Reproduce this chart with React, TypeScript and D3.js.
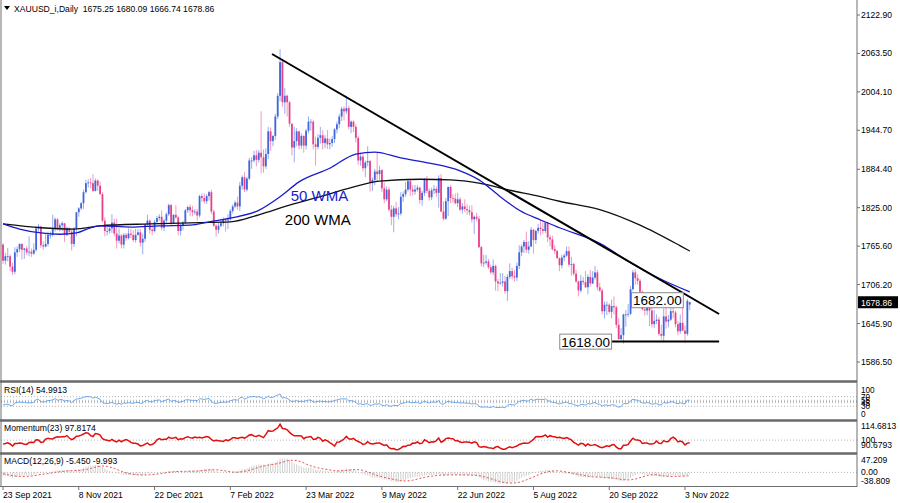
import React, { useRef, useEffect } from 'react';
import * as d3 from 'd3';

// XAUUSD daily bars, 23 Sep 2021 .. 7 Nov 2022 -> [open, high, low, close]
const candles: [number, number, number, number][] = [
  [1768, 1770, 1738, 1743], [1743, 1755, 1737, 1750], [1750, 1763, 1742, 1750], [1750, 1753, 1727, 1734],
  [1734, 1740, 1721, 1726], [1726, 1764, 1722, 1756], [1756, 1765, 1749, 1761], [1761, 1770, 1756, 1769],
  [1769, 1770, 1745, 1760], [1760, 1763, 1746, 1762], [1762, 1766, 1752, 1756], [1756, 1781, 1750, 1757],
  [1757, 1762, 1749, 1754], [1754, 1770, 1752, 1760], [1760, 1796, 1757, 1793], [1793, 1800, 1788, 1796],
  [1796, 1797, 1763, 1767], [1767, 1773, 1760, 1765], [1765, 1785, 1764, 1769], [1769, 1788, 1765, 1783],
  [1783, 1788, 1777, 1783], [1783, 1814, 1780, 1792], [1792, 1810, 1788, 1807], [1807, 1809, 1790, 1792],
  [1792, 1801, 1788, 1798], [1798, 1804, 1789, 1801], [1801, 1801, 1772, 1783], [1783, 1796, 1781, 1793],
  [1793, 1795, 1784, 1788], [1788, 1792, 1759, 1769], [1769, 1795, 1764, 1793], [1793, 1818, 1781, 1818],
  // 8 Nov 2021
  [1818, 1826, 1811, 1824], [1824, 1834, 1821, 1832], [1832, 1853, 1823, 1849], [1849, 1868, 1847, 1863],
  [1863, 1869, 1856, 1864], [1864, 1871, 1855, 1863], [1863, 1877, 1849, 1851], [1851, 1870, 1850, 1867],
  [1867, 1869, 1851, 1859], [1859, 1866, 1845, 1846], [1846, 1849, 1802, 1805], [1805, 1810, 1781, 1789],
  [1789, 1795, 1782, 1789], [1789, 1795, 1785, 1793], [1793, 1815, 1786, 1802], [1802, 1808, 1781, 1785],
  [1785, 1808, 1762, 1774], [1774, 1793, 1770, 1782], [1782, 1784, 1762, 1768], [1768, 1786, 1762, 1783],
  [1783, 1786, 1774, 1778], [1778, 1793, 1776, 1785], [1785, 1792, 1778, 1783], [1783, 1790, 1772, 1775],
  [1775, 1792, 1771, 1783], [1783, 1792, 1782, 1787], [1787, 1792, 1765, 1771], [1771, 1785, 1753, 1777],
  [1777, 1800, 1772, 1799], [1799, 1814, 1796, 1805], [1805, 1807, 1785, 1791], [1791, 1797, 1783, 1789],
  // 22 Dec 2021
  [1789, 1806, 1787, 1803], [1803, 1812, 1800, 1809], [1809, 1815, 1805, 1811], [1811, 1821, 1790, 1794],
  [1794, 1808, 1789, 1805], [1805, 1818, 1802, 1815], [1815, 1831, 1812, 1829], [1829, 1831, 1798, 1801],
  [1801, 1815, 1800, 1814], [1814, 1829, 1808, 1810], [1810, 1812, 1782, 1789], [1789, 1800, 1782, 1797],
  [1797, 1805, 1790, 1802], [1802, 1823, 1800, 1821], [1821, 1828, 1817, 1826], [1826, 1830, 1812, 1821],
  [1821, 1828, 1812, 1818], [1818, 1823, 1814, 1819], [1819, 1823, 1805, 1813], [1813, 1845, 1810, 1843],
  [1843, 1847, 1834, 1840], [1840, 1847, 1831, 1835], [1835, 1846, 1831, 1843], [1843, 1851, 1836, 1849],
  [1849, 1853, 1815, 1819], [1819, 1822, 1795, 1797], [1797, 1800, 1780, 1791], [1791, 1802, 1785, 1797],
  [1797, 1808, 1795, 1801], [1801, 1810, 1796, 1807], [1807, 1809, 1788, 1805], [1805, 1815, 1792, 1807],
  // 7 Feb 2022
  [1807, 1823, 1805, 1820], [1820, 1830, 1816, 1827], [1827, 1836, 1824, 1833], [1833, 1842, 1822, 1827],
  [1827, 1865, 1820, 1859], [1859, 1875, 1853, 1872], [1872, 1880, 1849, 1853], [1853, 1873, 1850, 1870],
  [1870, 1902, 1868, 1898], [1898, 1903, 1885, 1898], [1898, 1913, 1895, 1906], [1906, 1914, 1889, 1899],
  [1899, 1914, 1895, 1910], [1910, 1974, 1878, 1903], [1903, 1915, 1879, 1889], [1889, 1917, 1885, 1908],
  [1908, 1950, 1900, 1943], [1943, 1949, 1913, 1928], [1928, 1937, 1920, 1936], [1936, 1970, 1930, 1966],
  [1966, 2002, 1962, 1998], [1998, 2070, 1990, 2050], [2050, 2055, 1981, 1988], [1988, 2010, 1970, 1998],
  [1998, 2000, 1966, 1988], [1988, 1990, 1950, 1955], [1955, 1955, 1906, 1918], [1918, 1950, 1895, 1928],
  [1928, 1948, 1920, 1943], [1943, 1944, 1915, 1921], [1921, 1940, 1916, 1936], [1936, 1937, 1910, 1921],
  // 23 Mar 2022
  [1921, 1947, 1915, 1944], [1944, 1966, 1940, 1958], [1958, 1962, 1944, 1958], [1958, 1960, 1915, 1923],
  [1923, 1935, 1890, 1919], [1919, 1939, 1915, 1933], [1933, 1950, 1924, 1937], [1937, 1945, 1915, 1925],
  [1925, 1937, 1917, 1932], [1932, 1945, 1916, 1923], [1923, 1932, 1915, 1925], [1925, 1936, 1919, 1931],
  [1931, 1948, 1925, 1946], [1946, 1958, 1940, 1954], [1954, 1970, 1948, 1966], [1966, 1981, 1959, 1978],
  [1978, 1982, 1960, 1974], [1974, 1998, 1970, 1979], [1979, 1983, 1946, 1950], [1950, 1960, 1940, 1958],
  [1958, 1960, 1942, 1950], [1950, 1954, 1926, 1933], [1933, 1936, 1891, 1898], [1898, 1910, 1890, 1904],
  [1904, 1908, 1881, 1886], [1886, 1898, 1872, 1895], [1895, 1920, 1889, 1897], [1897, 1899, 1850, 1863],
  [1863, 1872, 1851, 1868], [1868, 1885, 1860, 1881], [1881, 1910, 1866, 1877], [1877, 1890, 1868, 1883],
  // 9 May 2022
  [1883, 1885, 1849, 1855], [1855, 1864, 1832, 1838], [1838, 1858, 1835, 1853], [1853, 1857, 1819, 1822],
  [1822, 1829, 1798, 1811], [1811, 1828, 1787, 1824], [1824, 1834, 1811, 1815], [1815, 1826, 1807, 1816],
  [1816, 1849, 1813, 1842], [1842, 1850, 1834, 1846], [1846, 1865, 1842, 1853], [1853, 1870, 1850, 1866],
  [1866, 1870, 1843, 1853], [1853, 1860, 1844, 1850], [1850, 1860, 1845, 1853], [1853, 1860, 1850, 1856],
  [1856, 1858, 1831, 1837], [1837, 1851, 1828, 1848], [1848, 1871, 1843, 1869], [1869, 1874, 1847, 1851],
  [1851, 1855, 1836, 1841], [1841, 1856, 1837, 1852], [1852, 1860, 1846, 1854], [1854, 1858, 1842, 1848],
  [1848, 1875, 1825, 1871], [1871, 1877, 1819, 1819], [1819, 1835, 1805, 1808], [1808, 1840, 1806, 1835],
  [1835, 1858, 1812, 1857], [1857, 1860, 1832, 1840], [1840, 1846, 1833, 1839], [1839, 1847, 1830, 1832],
  // 22 Jun 2022
  [1832, 1848, 1826, 1838], [1838, 1841, 1820, 1822], [1822, 1832, 1816, 1827], [1827, 1838, 1818, 1823],
  [1823, 1830, 1814, 1821], [1821, 1828, 1813, 1818], [1818, 1829, 1802, 1807], [1807, 1813, 1784, 1811],
  [1811, 1817, 1804, 1808], [1808, 1812, 1763, 1764], [1764, 1766, 1734, 1739], [1739, 1752, 1733, 1740],
  [1740, 1752, 1737, 1742], [1742, 1746, 1730, 1733], [1733, 1737, 1722, 1725], [1725, 1745, 1721, 1735],
  [1735, 1737, 1697, 1711], [1711, 1715, 1696, 1708], [1708, 1724, 1706, 1709], [1709, 1724, 1703, 1711],
  [1711, 1720, 1692, 1696], [1696, 1722, 1681, 1718], [1718, 1739, 1715, 1727], [1727, 1732, 1714, 1719],
  [1719, 1729, 1711, 1717], [1717, 1740, 1712, 1735], [1735, 1767, 1730, 1756], [1756, 1768, 1750, 1765],
  [1765, 1775, 1755, 1772], [1772, 1788, 1755, 1760], [1760, 1773, 1754, 1765], [1765, 1795, 1764, 1791],
  // 5 Aug 2022
  [1791, 1792, 1754, 1775], [1775, 1791, 1769, 1789], [1789, 1800, 1785, 1794], [1794, 1807, 1782, 1792],
  [1792, 1805, 1785, 1789], [1789, 1803, 1786, 1802], [1802, 1803, 1772, 1779], [1779, 1783, 1765, 1776],
  [1776, 1782, 1759, 1761], [1761, 1767, 1753, 1758], [1758, 1760, 1746, 1747], [1747, 1748, 1727, 1736],
  [1736, 1752, 1731, 1748], [1748, 1754, 1742, 1751], [1751, 1765, 1749, 1758], [1758, 1765, 1734, 1737],
  [1737, 1749, 1720, 1738], [1738, 1740, 1720, 1723], [1723, 1729, 1709, 1711], [1711, 1712, 1688, 1697],
  [1697, 1721, 1694, 1712], [1712, 1718, 1706, 1710], [1710, 1727, 1701, 1702], [1702, 1722, 1691, 1718],
  [1718, 1729, 1703, 1708], [1708, 1727, 1707, 1717], [1717, 1735, 1714, 1725], [1725, 1729, 1697, 1702],
  [1702, 1709, 1695, 1697], [1697, 1700, 1660, 1665], [1665, 1680, 1654, 1675], [1675, 1680, 1659, 1675],
  // 20 Sep 2022
  [1675, 1677, 1661, 1664], [1664, 1683, 1654, 1673], [1673, 1688, 1660, 1671], [1671, 1674, 1639, 1644],
  [1644, 1654, 1621, 1622], [1622, 1639, 1620, 1628], [1628, 1661, 1615, 1660], [1660, 1667, 1641, 1660],
  [1660, 1676, 1656, 1661], [1661, 1704, 1659, 1699], [1699, 1729, 1697, 1725], [1725, 1730, 1706, 1716],
  [1716, 1722, 1706, 1712], [1712, 1715, 1690, 1695], [1695, 1697, 1666, 1668], [1668, 1675, 1658, 1666],
  [1666, 1678, 1659, 1673], [1673, 1683, 1642, 1666], [1666, 1672, 1640, 1645], [1645, 1667, 1639, 1650],
  [1650, 1660, 1645, 1652], [1652, 1656, 1627, 1630], [1630, 1644, 1621, 1627], [1627, 1669, 1617, 1657],
  [1657, 1675, 1638, 1649], [1649, 1659, 1640, 1652], [1652, 1675, 1650, 1665], [1665, 1671, 1654, 1663],
  [1663, 1666, 1640, 1645], [1645, 1650, 1628, 1634], [1634, 1660, 1630, 1647], [1647, 1670, 1634, 1635],
  // 3 Nov 2022
  [1635, 1643, 1616, 1630], [1630, 1684, 1627, 1681], [1675.25, 1680.09, 1666.74, 1678.86],
];

// closes before the first visible bar, only used to warm up the indicators
const warmupCloses = [
  1813, 1810, 1812, 1804, 1763, 1729, 1729, 1752, 1753, 1780, 1787, 1786, 1788, 1781, 1781, 1805, 1802, 1790, 1793,
  1817, 1810, 1814, 1815, 1810, 1828, 1823, 1794, 1788, 1795, 1788, 1794, 1804, 1794, 1754, 1754, 1764, 1774, 1768,
];

// indicator read-outs printed in the sub-window captions
const rsiLast = '54.9913';
const momLast = '97.8174';
const macdLast = '-5.450';
const signalLast = '-9.993';

const dateBars = [0, 32, 64, 96, 128, 160, 192, 224, 256, 288];
const dateLabels = ['23 Sep 2021', '8 Nov 2021', '22 Dec 2021', '7 Feb 2022', '23 Mar 2022',
  '9 May 2022', '22 Jun 2022', '5 Aug 2022', '20 Sep 2022', '3 Nov 2022'];

const priceTicks = [2122.9, 2063.5, 2004.1, 1944.7, 1884.4, 1825.0, 1765.6, 1706.2, 1645.9, 1586.5];

// moving averages (bar index -> price)
const wma50Bars = [0, 7, 16, 24, 31, 37, 41, 54, 66, 79, 87, 96, 108, 117, 125, 138, 149, 157, 168, 180, 193, 201, 210, 218, 227, 235, 252, 265, 277, 290];
const wma50Vals = [1800, 1792, 1786, 1784, 1786, 1794, 1797, 1795, 1797, 1798, 1803, 1809, 1821, 1842, 1865, 1886, 1908, 1911, 1902, 1894, 1882, 1868, 1842, 1821, 1806, 1794, 1770, 1740, 1716, 1695];
const wma200Bars = [0, 16, 30, 41, 62, 83, 96, 108, 121, 134, 147, 159, 176, 189, 201, 214, 227, 235, 252, 269, 286, 290];
const wma200Vals = [1800, 1794, 1792, 1797, 1800, 1802, 1803, 1814, 1829, 1842, 1856, 1866, 1869, 1868, 1863, 1852, 1842, 1835, 1822, 1798, 1766, 1758];

// drawn objects
const trendBars = [113.6, 302.4];
const trendVals = [2062.6, 1660.7];
const supportBars = [257.2, 302.4];
const supportVal = 1618;
const resistanceBar = 265.2;
const resistanceVal = 1682;

const rsiLevels = [70, 55, 50, 45, 30];
const rsiTicks = [100, 70, 55, 45, 30, 0];
const momTicks = [114.6813, 100, 90.6793];
const macdTicks = [47.209, 0, -38.809];

const FONT = '"Liberation Sans", Arial, sans-serif';
const BULL = '#3f66dc';
const BEAR = '#e8418a';
const FRAME = '#707070';

function calcRsi(cl: number[], n: number) {
  const out = cl.map(() => NaN);
  let g = 0, l = 0;
  for (let i = 1; i <= n; i++) {
    const d = cl[i] - cl[i - 1];
    if (d > 0) g += d; else l -= d;
  }
  g /= n; l /= n;
  out[n] = 100 - 100 / (1 + g / l);
  for (let i = n + 1; i < cl.length; i++) {
    const d = cl[i] - cl[i - 1];
    g = (g * (n - 1) + Math.max(d, 0)) / n;
    l = (l * (n - 1) + Math.max(-d, 0)) / n;
    out[i] = l === 0 ? 100 : 100 - 100 / (1 + g / l);
  }
  return out;
}

function calcEma(cl: number[], n: number) {
  const k = 2 / (n + 1);
  const out: number[] = [];
  cl.forEach((c, i) => out.push(i === 0 ? c : c * k + out[i - 1] * (1 - k)));
  return out;
}

const App: React.FC = () => {
  const ref = useRef<SVGSVGElement | null>(null);

  useEffect(() => {
    if (!ref.current) return;
    const svg = d3.select(ref.current);
    svg.selectAll('*').remove();

    const closesAll = [...warmupCloses, ...candles.map(c => c[3])];
    const off = warmupCloses.length;
    const rsi = calcRsi(closesAll, 14).slice(off);
    const mom = closesAll.map((c, i) => (i >= 23 ? (c / closesAll[i - 23]) * 100 : NaN)).slice(off);
    const e12 = calcEma(closesAll, 12);
    const e26 = calcEma(closesAll, 26);
    const macdAll = e12.map((v, i) => v - e26[i]);
    const sigAll = macdAll.map((_, i) => (i >= 8 ? d3.mean(macdAll.slice(i - 8, i + 1)) as number : NaN));
    const macd = macdAll.slice(off);
    const sig = sigAll.slice(off);

    const right = 857;
    const x = d3.scaleLinear().domain([0, 288]).range([3, 685]);
    const y = d3.scaleLinear().domain([1586.5, 2122.9]).range([362, 15]);

    const panels = {
      main: [0, 381],
      rsi: [383, 420],
      mom: [422, 453],
      macd: [455, 487],
    };
    const yRsi = d3.scaleLinear().domain([0, 100]).range([413.5, 389.5]);
    const yMom = d3.scaleLinear().domain([90.6793, 114.6813]).range([451, 423]);
    const yMacd = d3.scaleLinear().domain([-38.809, 47.209]).range([485, 457]);

    svg.append('rect').attr('width', 900).attr('height', 503).attr('fill', '#fff');

    const defs = svg.append('defs');
    Object.entries(panels).forEach(([k, [t, b]]) => {
      defs.append('clipPath').attr('id', `clip-${k}`)
        .append('rect').attr('x', 1).attr('y', t).attr('width', right - 1).attr('height', b - t);
    });

    // ---- main chart
    const main = svg.append('g').attr('clip-path', 'url(#clip-main)');
    const bars = main.selectAll('g.bar').data(candles).enter().append('g');
    bars.append('line')
      .attr('x1', (_, i) => x(i)).attr('x2', (_, i) => x(i))
      .attr('y1', d => y(d[1])).attr('y2', d => y(d[2]))
      .attr('stroke', d => (d[3] >= d[0] ? BULL : BEAR))
      .attr('stroke-opacity', 0.6)
      .attr('stroke-width', 0.9);
    bars.append('rect')
      .attr('x', (_, i) => x(i) - 0.9)
      .attr('width', 1.8)
      .attr('y', d => y(Math.max(d[0], d[3])))
      .attr('height', d => Math.max(0.8, Math.abs(y(d[0]) - y(d[3]))))
      .attr('fill', d => (d[3] >= d[0] ? BULL : BEAR));

    const maLine = d3.line<[number, number]>()
      .x(d => x(d[0])).y(d => y(d[1]))
      .curve(d3.curveMonotoneX);
    main.append('path')
      .datum(wma200Bars.map((b, i) => [b, wma200Vals[i]] as [number, number]))
      .attr('d', maLine).attr('fill', 'none').attr('stroke', '#111').attr('stroke-width', 1.3);
    main.append('path')
      .datum(wma50Bars.map((b, i) => [b, wma50Vals[i]] as [number, number]))
      .attr('d', maLine).attr('fill', 'none').attr('stroke', '#1a1acd').attr('stroke-width', 1.3);

    const straight = d3.line<[number, number]>().x(d => x(d[0])).y(d => y(d[1]));
    main.append('path')
      .datum(trendBars.map((b, i) => [b, trendVals[i]] as [number, number]))
      .attr('d', straight).attr('stroke', '#000').attr('stroke-width', 2).attr('fill', 'none');
    main.append('path')
      .datum(supportBars.map(b => [b, supportVal] as [number, number]))
      .attr('d', straight).attr('stroke', '#000').attr('stroke-width', 2).attr('fill', 'none');

    main.append('text').text('50 WMA')
      .attr('x', x(121.5)).attr('y', y(1836)).attr('font-family', FONT).attr('font-size', 15).attr('fill', '#1a1acd');
    main.append('text').text('200 WMA')
      .attr('x', x(119)).attr('y', y(1799)).attr('font-family', FONT).attr('font-size', 15).attr('fill', '#000');

    const boxLabel = (txt: string, bx: number, by: number, anchor: 'start' | 'end') => {
      const g = main.append('g');
      const t = g.append('text').text(txt)
        .attr('x', anchor === 'start' ? bx + 2 : bx - 2).attr('y', by + 5)
        .attr('text-anchor', anchor)
        .attr('font-family', FONT).attr('font-size', 13.5).attr('fill', '#000');
      const bb = (t.node() as SVGTextElement).getBBox();
      g.insert('rect', 'text')
        .attr('x', bb.x - 1.5).attr('y', by - 7.5).attr('width', bb.width + 3).attr('height', 15)
        .attr('fill', '#fff').attr('stroke', '#8a8a8a').attr('stroke-width', 1);
    };
    boxLabel('1682.00', x(resistanceBar), y(resistanceVal), 'start');
    boxLabel('1618.00', x(supportBars[0]), y(supportVal), 'end');

    // header
    svg.append('path').attr('d', 'M4,6 L10,6 L7,10 Z').attr('fill', '#000');
    svg.append('text').text('XAUUSD_i,Daily  1675.25 1680.09 1666.74 1678.86')
      .attr('x', 14).attr('y', 11.5).attr('font-family', FONT).attr('font-size', 8.6)
      .attr('xml:space', 'preserve').style('white-space', 'pre');

    // ---- RSI
    const rsiG = svg.append('g').attr('clip-path', 'url(#clip-rsi)');
    rsiLevels.forEach(v => rsiG.append('line').attr('x1', 1).attr('x2', right)
      .attr('y1', yRsi(v)).attr('y2', yRsi(v)).attr('stroke', '#b4b4b4').attr('stroke-dasharray', '1,2'));
    rsiG.append('path').datum(rsi)
      .attr('d', d3.line<number>().x((_, i) => x(i)).y(d => yRsi(d)))
      .attr('fill', 'none').attr('stroke', '#5aa0ee').attr('stroke-width', 0.9);

    // ---- Momentum
    const momG = svg.append('g').attr('clip-path', 'url(#clip-mom)');
    momG.append('line').attr('x1', 1).attr('x2', right).attr('y1', yMom(100)).attr('y2', yMom(100))
      .attr('stroke', '#b4b4b4').attr('stroke-dasharray', '1,2');
    momG.append('path').datum(mom)
      .attr('d', d3.line<number>().x((_, i) => x(i)).y(d => yMom(d)))
      .attr('fill', 'none').attr('stroke', '#e01010').attr('stroke-width', 1.5);

    // ---- MACD
    const macdG = svg.append('g').attr('clip-path', 'url(#clip-macd)');
    macdG.append('line').attr('x1', 1).attr('x2', right).attr('y1', yMacd(0)).attr('y2', yMacd(0))
      .attr('stroke', '#b4b4b4').attr('stroke-dasharray', '1,2');
    macdG.selectAll('line.h').data(macd).enter().append('line')
      .attr('x1', (_, i) => x(i)).attr('x2', (_, i) => x(i))
      .attr('y1', yMacd(0)).attr('y2', d => yMacd(d))
      .attr('stroke', '#c4c4c4').attr('stroke-width', 0.8);
    macdG.append('path').datum(sig)
      .attr('d', d3.line<number>().x((_, i) => x(i)).y(d => yMacd(d)))
      .attr('fill', 'none').attr('stroke', '#e04040').attr('stroke-width', 0.9).attr('stroke-dasharray', '2,2');

    // panel captions
    const caption = (txt: string, yy: number) => svg.append('text').text(txt)
      .attr('x', 4).attr('y', yy).attr('font-family', FONT).attr('font-size', 8.6).attr('fill', '#000');
    caption(`RSI(14) ${rsiLast}`, 393);
    caption(`Momentum(23) ${momLast}`, 431);
    caption(`MACD(12,26,9) ${macdLast} ${signalLast}`, 464);

    // frames
    const frame = svg.append('g');
    frame.append('line').attr('x1', 1).attr('x2', 1).attr('y1', 0).attr('y2', 487).attr('stroke', FRAME);
    frame.append('line').attr('x1', right).attr('x2', right).attr('y1', 0).attr('y2', 487).attr('stroke', FRAME);
    [381.5, 420.5, 453.5].forEach(yy => frame.append('line')
      .attr('x1', 0).attr('x2', right).attr('y1', yy).attr('y2', yy)
      .attr('stroke', '#6a6a6a').attr('stroke-width', 2.5));
    frame.append('line').attr('x1', 0).attr('x2', right).attr('y1', 486.5).attr('y2', 486.5).attr('stroke', FRAME);

    // right price axis
    const axisText = (txt: string, yy: number, size = 8.6) => svg.append('text').text(txt)
      .attr('x', 861).attr('y', yy).attr('font-family', FONT).attr('font-size', size).attr('fill', '#000');
    priceTicks.forEach(p => {
      svg.append('line').attr('x1', right).attr('x2', right + 3).attr('y1', y(p)).attr('y2', y(p)).attr('stroke', FRAME);
      axisText(d3.format('.2f')(p), y(p) + 3);
    });
    const last = candles[candles.length - 1][3];
    svg.append('rect').attr('x', right + 1).attr('y', y(last) - 6).attr('width', 40).attr('height', 12).attr('fill', '#000');
    svg.append('text').text(last.toFixed(2)).attr('x', 861).attr('y', y(last) + 3.5)
      .attr('font-family', FONT).attr('font-size', 8.6).attr('fill', '#fff');

    rsiTicks.forEach(v => axisText(String(v), yRsi(v) + 3, 8.2));
    momTicks.forEach((v, i) => axisText(String(v), i === 0 ? panels.mom[0] + 7 : i === 2 ? panels.mom[1] - 5.5 : yMom(v) + 3));
    macdTicks.forEach((v, i) => axisText(i === 1 ? '0.00' : String(v), i === 0 ? panels.macd[0] + 8 : i === 2 ? panels.macd[1] - 3.5 : yMacd(v) + 3));

    // time axis
    dateBars.forEach((b, i) => {
      svg.append('line').attr('x1', x(b)).attr('x2', x(b)).attr('y1', 487).attr('y2', 490).attr('stroke', FRAME);
      svg.append('text').text(dateLabels[i]).attr('x', x(b)).attr('y', 497.5)
        .attr('font-family', FONT).attr('font-size', 8.6).attr('fill', '#000');
    });
  }, []);

  return (
    <div style={{ position: 'absolute', left: 0, top: 0 }}>
      <svg ref={ref} width={900} height={503} style={{ display: 'block' }} />
    </div>
  );
};

export default App;
